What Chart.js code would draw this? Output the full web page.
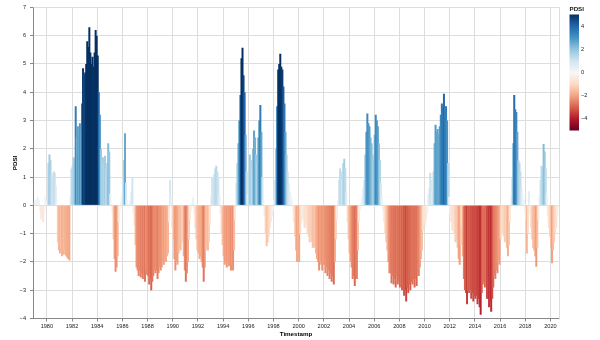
<!DOCTYPE html>
<html>
<head>
<meta charset="utf-8">
<title>PDSI</title>
<script src="https://cdn.jsdelivr.net/npm/chart.js@4.4.1/dist/chart.umd.min.js"></script>
<style>
  html, body { margin: 0; padding: 0; background: #fff; }
  #chart { display: block; }
</style>
</head>
<body>
<canvas id="chart" width="600" height="340"></canvas>
<script>
// monthly PDSI, one row per year starting January 1979
const firstYear = 1979;
const pdsi = [
  0.1, 0.2, 0.25, 0.3, 0.2, -0.2, -0.5, -0.4, -0.6, -0.3, 0.3, 0.1,            // 1979
  0.2, 1.5, 1.8, 1.6, 1.1, 1.0, 1.2, 1.15, 0.7, 0.1, -1.3, -1.6,               // 1980
  -1.7, -1.5, -1.8, -1.75, -1.6, -1.75, -1.8, -1.85, -1.9, -1.95, 0.3, 1.3,    // 1981
  1.4, 1.7, 1.65, 3.5, 2.4, 2.8, 2.5, 2.9, 2.6, 3.6, 4.85, 4.6,                // 1982
  4.7, 5.0, 5.8, 5.6, 6.3, 5.4, 5.0, 5.25, 4.9, 5.4, 6.2, 6.0,                 // 1983
  5.3, 4.0, 3.2, 2.0, 1.6, 1.7, 1.5, 1.75, 1.3, 1.5, 2.2, 1.9,                 // 1984
  0.4, 0.1, -0.3, -1.2, -1.9, -2.35, -2.2, -1.8, -0.6, -0.2, 0.1, 0.3,         // 1985
  0.9, 1.6, 2.55, 0.8, 0.2, -0.1, 0.1, 0.2, 0.5, 1.0, -0.3, -0.7,              // 1986
  -1.4, -2.2, -2.3, -2.5, -2.3, -2.55, -2.4, -2.6, -2.4, -2.7, -2.3, -2.45,    // 1987
  -2.5, -2.8, -2.6, -3.0, -2.7, -2.5, -2.3, -2.4, -2.3, -2.6, -2.4, -2.2,      // 1988
  -2.3, -2.2, -2.0, -2.1, -1.9, -2.0, -1.8, -1.7, -0.6, 0.9, 0.3, -0.8,        // 1989
  -1.2, -1.9, -2.3, -2.0, -2.1, -1.7, -1.5, -1.6, -1.3, -1.1, -1.8, -2.3,      // 1990
  -2.7, -2.4, -2.0, -1.2, -0.5, -0.2, 0.1, 0.3, -0.3, -0.8, -1.2, -1.6,        // 1991
  -1.7, -1.9, -1.8, -2.0, -2.2, -2.7, -2.2, -1.6, -1.5, -1.6, -1.3, -0.7,      // 1992
  0.3, 1.0, 1.0, 1.1, 1.3, 1.4, 1.2, 1.0, 0.4, -0.3, -1.0, -1.4,               // 1993
  -1.8, -2.1, -2.0, -2.2, -2.0, -2.15, -2.1, -2.3, -2.1, -2.3, -1.6, -0.5,     // 1994
  0.8, 1.5, 2.2, 3.0, 3.9, 5.2, 5.57, 4.6, 4.0, 2.5, 1.2, 0.4,                 // 1995
  1.2, 1.8, 1.6, 1.3, 2.0, 2.65, 2.4, 1.8, 1.5, 2.4, 3.0, 3.55,                // 1996
  2.6, 1.0, 0.2, -0.4, -1.0, -1.45, -1.3, -1.1, -0.8, -0.6, -0.4, -0.2,        // 1997
  0.2, 0.9, 2.0, 3.5, 4.8, 5.0, 5.36, 4.9, 4.8, 4.2, 3.6, 2.6,                 // 1998
  1.8, 1.2, 0.8, 0.5, 0.3, 0.2, -0.2, -0.6, -1.1, -1.6, -2.0, -1.7,            // 1999
  -2.0, -1.0, -0.6, -0.4, -0.5, -0.8, -0.8, -0.7, -1.0, -1.1, -1.3, -1.1,      // 2000
  -1.3, -1.5, -1.5, -1.4, -1.7, -1.9, -2.0, -2.3, -2.0, -2.1, -2.3, -2.1,      // 2001
  -2.1, -2.4, -2.2, -2.5, -2.3, -2.6, -2.4, -2.7, -2.5, -2.8, -2.0, -1.2,      // 2002
  -0.5, 0.2, 0.9, 1.3, 1.2, 0.9, 1.5, 1.65, 1.3, 0.5, -0.6, -1.2,              // 2003
  -1.7, -2.0, -2.2, -2.6, -2.5, -2.85, -2.6, -2.6, -1.6, -0.6, -0.2, 0.1,      // 2004
  0.3, 0.6, 0.9, 1.8, 2.6, 3.25, 2.9, 2.8, 2.4, 2.2, 1.8, 1.6,                 // 2005
  2.5, 3.2, 3.0, 2.8, 2.2, 1.6, 0.8, 0.3, -0.2, -0.6, -1.0, -1.3,              // 2006
  -1.6, -2.0, -2.4, -2.4, -2.75, -2.5, -2.8, -2.6, -2.9, -2.5, -2.8, -2.7,     // 2007
  -2.9, -2.7, -3.0, -2.8, -3.2, -3.0, -3.4, -2.9, -3.1, -2.8, -3.0, -2.7,      // 2008
  -2.8, -2.6, -2.9, -2.6, -2.85, -2.5, -2.5, -2.2, -1.9, -1.6, -0.9, -0.6,     // 2009
  -0.7, -0.5, -0.3, 0.4, 0.6, 1.15, 0.9, 0.5, 1.2, 2.2, 2.85, 2.6,             // 2010
  2.7, 2.5, 2.8, 3.2, 3.6, 3.5, 3.95, 3.5, 3.5, 3.0, 1.5, 0.3,                 // 2011
  -0.3, -0.6, -0.9, -0.7, -1.0, -1.3, -1.2, -1.5, -1.9, -2.1, -1.4, -0.8,      // 2012
  -1.8, -2.6, -3.0, -3.1, -3.5, -3.0, -3.1, -3.0, -3.3, -3.1, -3.4, -3.2,      // 2013
  -3.3, -3.2, -3.5, -3.3, -3.6, -3.87, -3.1, -2.8, -2.7, -2.9, -2.7, -3.3,     // 2014
  -3.3, -3.6, -3.4, -3.76, -3.3, -2.9, -2.5, -2.6, -2.3, -2.4, -2.0, -2.1,     // 2015
  -1.2, -1.0, -0.9, -1.1, -1.3, -1.2, -1.5, -1.8, -1.4, -0.6, 0.3, 1.0,        // 2016
  2.2, 3.9, 3.4, 3.3, 2.6, 1.6, 1.5, 1.2, 0.6, 0.3, 0.2, -0.2,                 // 2017
  -0.5, -1.7, -1.0, 0.5, -0.3, -0.8, -1.2, -1.5, -1.6, -1.8, -2.17, -1.5,      // 2018
  -0.5, 0.3, 0.9, 1.4, 1.3, 2.17, 1.9, 1.3, 0.4, -0.4, -0.8, -1.1,             // 2019
  -1.5, -2.05, -1.6, -1.3, -1.0, -0.8, -0.4                                    // 2020
];

const yearTicks = [1980, 1982, 1984, 1986, 1988, 1990, 1992, 1994, 1996, 1998, 2000,
                   2002, 2004, 2006, 2008, 2010, 2012, 2014, 2016, 2018, 2020];
const pdsiTicks = [-4, -3, -2, -1, 0, 1, 2, 3, 4, 5, 6, 7];
const legendTicks = [4, 2, 0, -2, -4];

// diverging red-blue colour scale over [-5, 5]
const colorDomain = [-5, 5];
const redBlue = ['#67001f', '#b2182b', '#d6604d', '#f4a582', '#fddbc7', '#f7f7f7',
                 '#d1e5f0', '#92c5de', '#4393c3', '#2166ac', '#053061'];
const redBlueRgb = redBlue.map(h => {
  const n = parseInt(h.slice(1), 16);
  return [n >> 16, (n >> 8) & 255, n & 255];
});

function pdsiColor(v) {
  let t = (v - colorDomain[0]) / (colorDomain[1] - colorDomain[0]);
  t = Math.max(0, Math.min(1, t));
  const n = redBlueRgb.length - 1;
  const i = Math.min(n - 1, Math.floor(t * n));
  const f = t * n - i;
  const a = redBlueRgb[i], b = redBlueRgb[i + 1];
  const c = a.map((ch, k) => Math.round(ch + (b[k] - ch) * f));
  return `rgb(${c[0]},${c[1]},${c[2]})`;
}

const fontFamily = '"Liberation Sans", Arial, sans-serif';
const minus = v => String(v).replace('-', '\u2212');

const points = pdsi.map((v, i) => ({ x: firstYear + (i + 0.5) / 12, y: v }));

// light frame on the top and right of the plot
const viewFrame = {
  id: 'viewFrame',
  beforeDatasetsDraw(chart) {
    const { ctx, chartArea: a } = chart;
    const l = Math.round(a.left) + 0.5, r = Math.round(a.right) + 0.5;
    const t = Math.round(a.top) + 0.5, b = Math.round(a.bottom) + 0.5;
    ctx.save();
    ctx.strokeStyle = '#ddd';
    ctx.lineWidth = 1;
    ctx.beginPath();
    ctx.moveTo(l, t);
    ctx.lineTo(r, t);
    ctx.lineTo(r, b);
    ctx.stroke();
    ctx.restore();
  }
};

// colour ramp legend on the right
const gradientLegend = {
  id: 'gradientLegend',
  afterDraw(chart) {
    const { ctx } = chart;
    const x = 569.5, top = 14.5, w = 9.5, h = 116;
    const g = ctx.createLinearGradient(0, top, 0, top + h);
    redBlue.forEach((c, i) => g.addColorStop(1 - i / (redBlue.length - 1), c));
    ctx.save();
    ctx.fillStyle = g;
    ctx.fillRect(x, top, w, h);
    ctx.fillStyle = '#222';
    ctx.textBaseline = 'middle';
    ctx.textAlign = 'left';
    ctx.font = `5.6px ${fontFamily}`;
    legendTicks.forEach(v => {
      const y = top + (colorDomain[1] - v) / (colorDomain[1] - colorDomain[0]) * h;
      ctx.fillText(minus(v), x + w + 2, y);
    });
    ctx.font = `bold 6.2px ${fontFamily}`;
    ctx.fillText('PDSI', x, 9);
    ctx.restore();
  }
};

const labelFont = { family: fontFamily, size: 5.6 };
const titleFont = { family: fontFamily, size: 6.2, weight: 'bold' };

new Chart(document.getElementById('chart'), {
  type: 'bar',
  data: {
    datasets: [{
      label: 'PDSI',
      data: points,
      backgroundColor: pdsi.map(pdsiColor),
      borderWidth: 0,
      // 2px bars overlap the next month, so no seams show between them
      barThickness: 2,
      inflateAmount: 0
    }]
  },
  options: {
    responsive: false,
    animation: false,
    events: [],
    layout: { padding: { top: 6, right: 41, bottom: 0, left: 0 } },
    plugins: { legend: { display: false }, tooltip: { enabled: false } },
    scales: {
      x: {
        type: 'linear',
        min: 1978.9,
        max: 2020.68,
        offset: false,
        afterBuildTicks: s => { s.ticks = yearTicks.map(v => ({ value: v })); },
        afterFit: s => { s.height = 21.5; },
        ticks: { font: labelFont, color: '#222', padding: 2, maxRotation: 0, autoSkip: false, callback: v => String(v) },
        grid: { color: '#ddd', tickColor: '#888', tickLength: 3, offset: false },
        border: { color: '#888' },
        title: { display: true, text: 'Timestamp', font: titleFont, color: '#000', padding: { top: 0, bottom: 2 } }
      },
      y: {
        min: -4,
        max: 7,
        afterBuildTicks: s => { s.ticks = pdsiTicks.map(v => ({ value: v })); },
        afterFit: s => { s.width = 33; },
        ticks: { font: labelFont, color: '#222', padding: 4, callback: v => minus(v) },
        grid: { color: '#ddd', tickColor: '#888', tickLength: 3 },
        border: { color: '#888' },
        title: { display: true, text: 'PDSI', font: titleFont, color: '#000', padding: { top: 12, bottom: 0 } }
      }
    }
  },
  plugins: [viewFrame, gradientLegend]
});
</script>
</body>
</html>
